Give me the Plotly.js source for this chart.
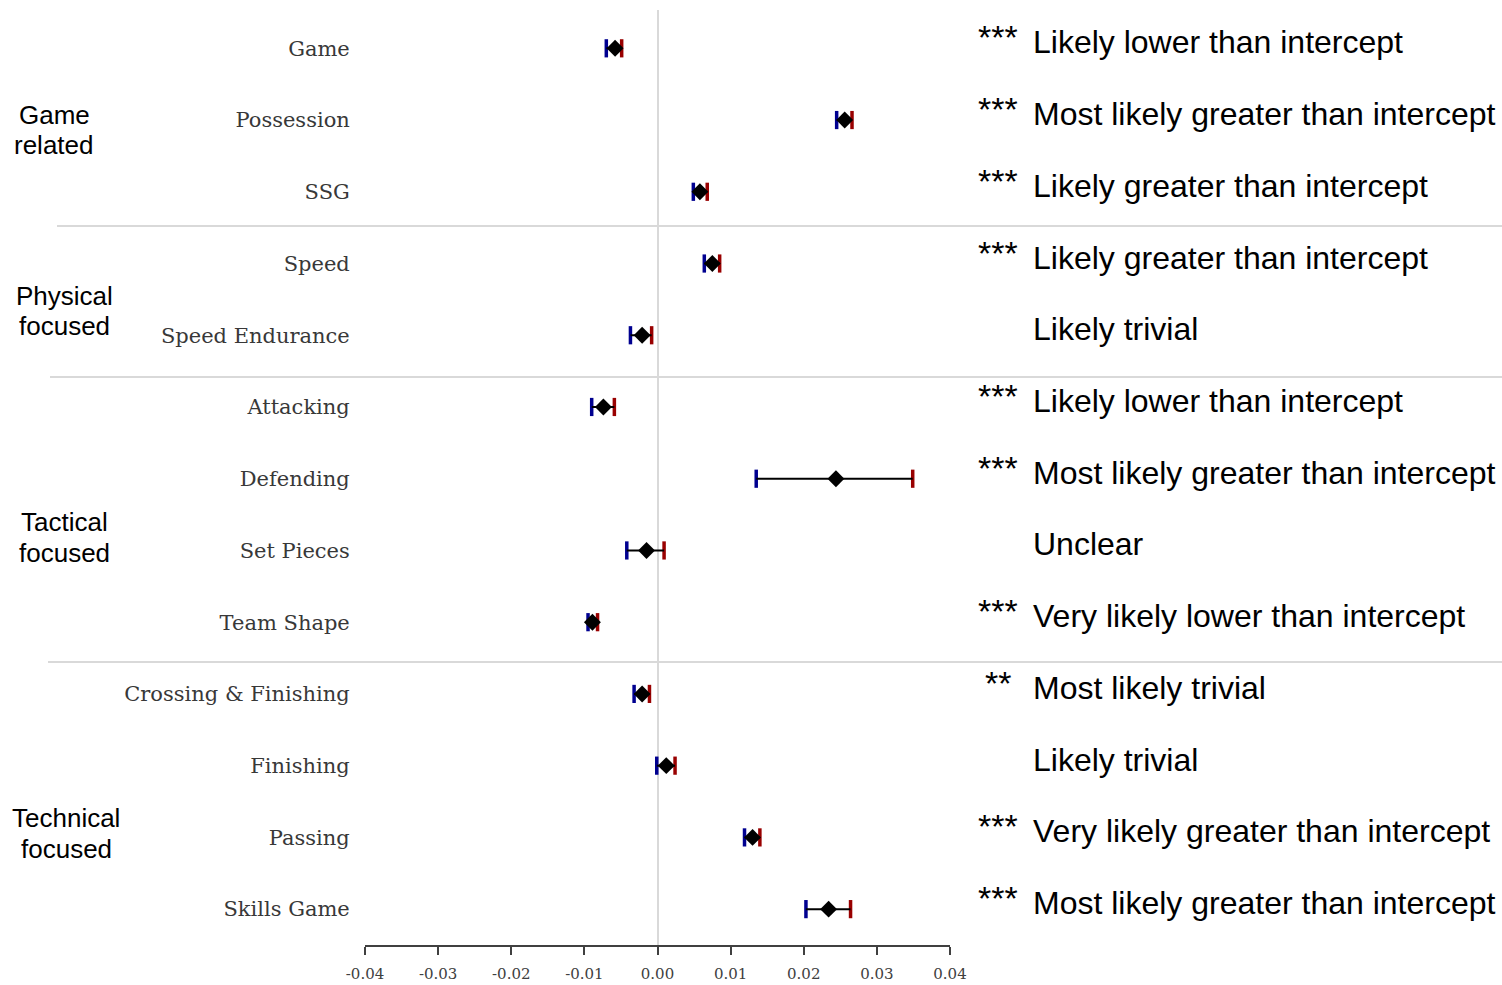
<!DOCTYPE html>
<html>
<head>
<meta charset="utf-8">
<script src="https://cdn.plot.ly/plotly-3.0.1.min.js"></script>
<style>html,body{margin:0;padding:0;background:#fff;}#chart{width:1502px;height:985px;}</style>
</head>
<body>
<div id="chart"></div>
<script>
// ---- Data ----
const categories = ['Game','Possession','SSG','Speed','Speed Endurance','Attacking','Defending','Set Pieces','Team Shape','Crossing & Finishing','Finishing','Passing','Skills Game'];
const estimate = [-0.0058, 0.0256, 0.0058, 0.0075, -0.0021, -0.0074, 0.0244, -0.0015, -0.0089, -0.0021, 0.0012, 0.0130, 0.0234];
const lower    = [-0.0070, 0.0245, 0.0049, 0.0064, -0.0037, -0.0090, 0.0135, -0.0042, -0.0095, -0.0032, -0.0001, 0.0119, 0.0203];
const upper    = [-0.0049, 0.0266, 0.0068, 0.0085, -0.0008, -0.0059, 0.0349, 0.0009, -0.0082, -0.0011, 0.0024, 0.0140, 0.0264];
const stars    = ['***','***','***','***','','***','***','','***','**','','***','***'];
const verdicts = ['Likely lower than intercept','Most likely greater than intercept','Likely greater than intercept','Likely greater than intercept','Likely trivial','Likely lower than intercept','Most likely greater than intercept','Unclear','Very likely lower than intercept','Most likely trivial','Likely trivial','Very likely greater than intercept','Most likely greater than intercept'];
const groupLabels = [['Game','related'],['Physical','focused'],['Tactical','focused'],['Technical','focused']];
const tickValues = [-0.04,-0.03,-0.02,-0.01,0,0.01,0.02,0.03,0.04];
const tickLabels = ['-0.04','-0.03','-0.02','-0.01','0.00','0.01','0.02','0.03','0.04'];

// ---- Build ----
const W = 1502, H = 985;
const rowIdx = categories.map((_, i) => i);
// convert a pixel row position to y-axis units (rows are 71.75px apart, first at 48.3px)
const pxToRow = p => (p - 48.3) / 71.75;

const lowerCaps = {
  x: lower, y: rowIdx, type: 'scatter', mode: 'markers', hoverinfo: 'skip', showlegend: false,
  marker: {symbol: 'line-ns', size: 13, color: '#000090', line: {color: '#000090', width: 3.5}}
};
const upperCaps = {
  x: upper, y: rowIdx, type: 'scatter', mode: 'markers', hoverinfo: 'skip', showlegend: false,
  marker: {symbol: 'line-ns', size: 13, color: '#990000', line: {color: '#990000', width: 3.5}}
};
const points = {
  x: estimate, y: rowIdx, type: 'scatter', mode: 'markers', showlegend: false,
  marker: {symbol: 'diamond', size: 13, color: '#000000'},
  error_x: {
    type: 'data', symmetric: false,
    array: upper.map((u, i) => u - estimate[i]),
    arrayminus: lower.map((l, i) => estimate[i] - l),
    color: '#000000', thickness: 2, width: 0
  }
};

const annotations = [];
categories.forEach((c, i) => {
  annotations.push({
    xref: 'paper', yref: 'y', x: 1031 / W, y: i, xanchor: 'left', yanchor: 'middle',
    yshift: 6, showarrow: false, text: verdicts[i],
    font: {family: 'Liberation Sans, Arial, sans-serif', size: 32, color: '#000000'}
  });
  if (stars[i]) {
    annotations.push({
      xref: 'paper', yref: 'y', x: 998 / W, y: i, xanchor: 'center', yanchor: 'middle',
      yshift: 11, showarrow: false, text: stars[i],
      font: {family: 'Liberation Sans, Arial, sans-serif', size: 34, color: '#000000'}
    });
  }
});
const groupPos = [[54, 115, 145], [64, 296, 326], [64, 522, 553], [66, 818, 849]];
groupLabels.forEach((g, k) => {
  g.forEach((line, j) => {
    annotations.push({
      xref: 'paper', yref: 'y', x: groupPos[k][0] / W, y: pxToRow(groupPos[k][1 + j]),
      xanchor: 'center', yanchor: 'middle', showarrow: false, text: line,
      font: {family: 'Liberation Sans, Arial, sans-serif', size: 26, color: '#000000'}
    });
  });
});

const sepLines = [[57, 226], [50, 377], [48, 662]].map(s => ({
  type: 'line', xref: 'paper', yref: 'y', x0: s[0] / W, x1: 1, y0: pxToRow(s[1]), y1: pxToRow(s[1]),
  line: {color: '#d9d9d9', width: 2}, layer: 'below'
}));

const layout = {
  width: W, height: H,
  margin: {l: 0, r: 0, t: 0, b: 0},
  paper_bgcolor: '#ffffff', plot_bgcolor: '#ffffff',
  showlegend: false,
  xaxis: {
    domain: [365 / W, 950 / W], range: [-0.04, 0.04], automargin: false,
    showgrid: false, zeroline: true, zerolinecolor: '#d9d9d9', zerolinewidth: 2,
    showline: true, linecolor: '#404040', linewidth: 2,
    ticks: 'outside', ticklen: 8, tickwidth: 2, tickcolor: '#404040',
    ticklabelstandoff: 6,
    tickvals: tickValues, ticktext: tickLabels,
    tickfont: {family: 'DejaVu Serif, serif', size: 15, color: '#404040'},
    fixedrange: true
  },
  yaxis: {
    domain: [1 - 945 / H, 1 - 10 / H], range: [12.5, -0.534], automargin: false,
    showgrid: false, zeroline: false, showline: false,
    tickvals: rowIdx, ticktext: categories,
    ticks: 'outside', ticklen: 10, tickcolor: 'rgba(0,0,0,0)',
    tickfont: {family: 'DejaVu Serif, serif', size: 21, color: '#383838'},
    fixedrange: true
  },
  shapes: sepLines,
  annotations: annotations
};

Plotly.newPlot('chart', [lowerCaps, upperCaps, points], layout, {displayModeBar: false, staticPlot: true});
</script>
</body>
</html>
